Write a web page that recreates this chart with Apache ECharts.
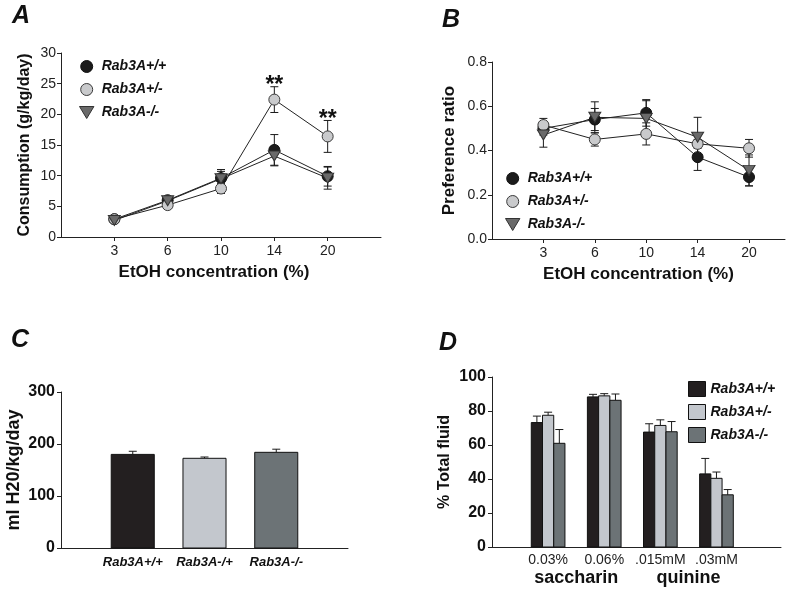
<!DOCTYPE html>
<html>
<head>
<meta charset="utf-8">
<script src="https://cdn.jsdelivr.net/npm/echarts@6/dist/echarts.min.js"></script>
<style>
html,body{margin:0;padding:0;background:#fff;}
#chart{width:800px;height:591px;}
</style>
</head>
<body>
<div id="chart"></div>
<script>
// ---------- DATA ----------
const concentrations = ['3', '6', '10', '14', '20'];
// Panel A: consumption (g/kg/day)
const consWT = [2.9, 6.0, 9.6, 14.2, 9.9];
const consWTErr = [0.2, 0.4, 1.4, 2.5, 1.6];
const consHet = [2.9, 5.2, 7.9, 22.4, 16.4];
const consHetErr = [0.2, 0.4, 0.8, 2.1, 2.6];
const consKO = [2.7, 5.9, 9.5, 13.2, 9.6];
const consKOErr = [0.2, 0.4, 1.2, 1.6, 1.8];
const sigIdx = [3, 4];
// Panel B: preference ratio
const prefWT = [0.50, 0.54, 0.57, 0.37, 0.28];
const prefWTErr = [0.03, 0.05, 0.06, 0.06, 0.04];
const prefHet = [0.515, 0.45, 0.475, 0.43, 0.41];
const prefHetErr = [0.03, 0.03, 0.05, 0.02, 0.04];
const prefKO = [0.47, 0.55, 0.545, 0.46, 0.31];
const prefKOErr = [0.055, 0.07, 0.08, 0.09, 0.07];
// Panel C: water intake
const waterGroups = ['Rab3A+/+', 'Rab3A-/+', 'Rab3A-/-'];
const waterVals = [180, 172.5, 184];
const waterErr = [6, 2.5, 6];
// Panel D: taste preference
const tasteLabels = ['0.03%', '0.06%', '.015mM', '.03mM'];
const tasteClasses = ['saccharin', 'quinine'];
const tasteWT = [73.2, 88.3, 67.6, 43.0];
const tasteWTErr = [3.8, 1.5, 4.9, 9.1];
const tasteHet = [77.5, 88.9, 71.5, 40.4];
const tasteHetErr = [1.8, 1.3, 3.3, 3.7];
const tasteKO = [61.0, 86.3, 67.8, 30.7];
const tasteKOErr = [8.1, 3.7, 6.0, 3.1];
const genotypes = ['Rab3A+/+', 'Rab3A+/-', 'Rab3A-/-'];

// ---------- STYLE ----------
const FF = 'Liberation Sans, Arial, sans-serif';
const INK = '#1a1a1a';
const TRI = 'path://M0,0 L12,0 L6,10 Z';
const markerStyles = [
  { symbol: 'circle', size: 11, color: '#1b1b1b', border: '#111' },
  { symbol: 'circle', size: 11, color: '#c9cacc', border: '#3a3a3a' },
  { symbol: TRI, size: [12, 10], color: '#6a6a6a', border: '#333' }
];
const barColors = ['#231f20', '#c3c7cd', '#6c7376'];

const chart = echarts.init(document.getElementById('chart'), null, { renderer: 'canvas' });

function pts(arr, err) { return arr.map((v, i) => [i + 1, v, err ? err[i] : 0]); }

function errRender(both, capPx, offsetFn) {
  return function (params, api) {
    const x = api.value(0), y = api.value(1), e = api.value(2);
    const dx = offsetFn ? offsetFn(api) : 0;
    const top = api.coord([x, y + e]);
    const bot = api.coord([x, both ? y - e : y]);
    const cx = top[0] + dx;
    const st = { stroke: INK, lineWidth: 1 };
    const ch = [
      { type: 'line', shape: { x1: cx, y1: top[1], x2: cx, y2: bot[1] }, style: st },
      { type: 'line', shape: { x1: cx - capPx / 2, y1: top[1], x2: cx + capPx / 2, y2: top[1] }, style: st }
    ];
    if (both) ch.push({ type: 'line', shape: { x1: cx - capPx / 2, y1: bot[1], x2: cx + capPx / 2, y2: bot[1] }, style: st });
    return { type: 'group', children: ch };
  };
}

function barRender(frac, offsetIdx, color) {
  return function (params, api) {
    const x = api.value(0), y = api.value(1);
    const w = api.size([1, 0])[0] * frac;
    const p = api.coord([x, y]);
    const p0 = api.coord([x, 0]);
    const cx = p[0] + offsetIdx * w;
    return {
      type: 'rect',
      shape: { x: cx - w / 2, y: p[1], width: w, height: p0[1] - p[1] },
      style: { fill: color, stroke: '#111', lineWidth: 1 }
    };
  };
}

function lineSeries(name, idx, data, xi) {
  const m = markerStyles[idx];
  return {
    name: name, type: 'line', xAxisIndex: xi, yAxisIndex: xi,
    data: data.map(d => [d[0], d[1]]),
    symbol: m.symbol, symbolSize: m.size, showSymbol: true,
    lineStyle: { color: '#222', width: 1 },
    itemStyle: { color: m.color, borderColor: m.border, borderWidth: 1 },
    z: 3, animation: false
  };
}
function errSeries(data, xi) {
  return {
    type: 'custom', xAxisIndex: xi, yAxisIndex: xi, data: data,
    renderItem: errRender(true, 8), z: 2, animation: false, silent: true
  };
}

const axisLineStyle = { lineStyle: { color: '#222', width: 1 } };
const tickStyle = { show: true, length: 4, lineStyle: { color: '#222' } };

function legendFor(prefix, left, top, iw, ih, gap, size, icons) {
  return {
    orient: 'vertical', left: left, top: top, itemWidth: iw, itemHeight: ih, itemGap: gap,
    selectedMode: false,
    data: genotypes.map((g, i) => ({ name: prefix + g, icon: icons[i] })),
    formatter: n => n.slice(2),
    textStyle: { fontFamily: FF, fontWeight: 'bold', fontStyle: 'italic', fontSize: size, color: '#111', lineHeight: size + 1 },
    itemStyle: { borderWidth: 1 }
  };
}

const option = {
  backgroundColor: '#fff',
  animation: false,
  textStyle: { fontFamily: FF },
  graphic: [
    { type: 'text', left: 12, top: 4, style: { text: 'A', font: 'italic bold 25px ' + FF, fill: '#111' } },
    { type: 'text', left: 442, top: 8, style: { text: 'B', font: 'italic bold 25px ' + FF, fill: '#111' } },
    { type: 'text', left: 11, top: 328, style: { text: 'C', font: 'italic bold 25px ' + FF, fill: '#111' } },
    { type: 'text', left: 439, top: 331, style: { text: 'D', font: 'italic bold 25px ' + FF, fill: '#111' } }
  ],
  legend: [
    legendFor('A ', 74, 54, 20, 12, 8, 14, ['circle', 'circle', TRI]),
    legendFor('B ', 500, 166, 20, 12, 8, 14, ['circle', 'circle', TRI]),
    legendFor('D ', 683, 376, 17, 15, 7, 14, ['rect', 'rect', 'rect'])
  ],
  grid: [
    { left: 61, top: 53, width: 320, height: 184 },
    { left: 492, top: 62, width: 293, height: 177 },
    { left: 61, top: 392, width: 287, height: 156 },
    { left: 492, top: 377, width: 289, height: 170 }
  ],
  xAxis: [
    {
      gridIndex: 0, type: 'value', min: 0, max: 6, interval: 1,
      axisLine: axisLineStyle, splitLine: { show: false },
      axisTick: Object.assign({ customValues: [1, 2, 3, 4, 5] }, tickStyle),
      axisLabel: { customValues: [1, 2, 3, 4, 5], formatter: v => concentrations[v - 1] || '', fontSize: 14, color: '#222', margin: 7 },
      name: 'EtOH concentration (%)', nameLocation: 'middle', nameGap: 27,
      nameTextStyle: { fontSize: 17, fontWeight: 'bold', color: '#111', padding: [0, 14, 0, 0] }
    },
    {
      gridIndex: 1, type: 'value', min: 0, max: 5.7, interval: 1,
      axisLine: axisLineStyle, splitLine: { show: false },
      axisTick: Object.assign({ customValues: [1, 2, 3, 4, 5] }, tickStyle),
      axisLabel: { customValues: [1, 2, 3, 4, 5], formatter: v => concentrations[v - 1] || '', fontSize: 14, color: '#222', margin: 7 },
      name: 'EtOH concentration (%)', nameLocation: 'middle', nameGap: 27,
      nameTextStyle: { fontSize: 17, fontWeight: 'bold', color: '#111' }
    },
    {
      gridIndex: 2, type: 'value', min: 0, max: 4, interval: 1,
      axisLine: axisLineStyle, splitLine: { show: false }, axisTick: { show: false },
      axisLabel: { customValues: [1, 2, 3], formatter: v => waterGroups[v - 1] || '', fontSize: 13, fontWeight: 'bold', fontStyle: 'italic', color: '#111', margin: 8 }
    },
    {
      gridIndex: 3, type: 'value', min: 0, max: 5.15, interval: 1,
      axisLine: axisLineStyle, splitLine: { show: false }, axisTick: { show: false },
      axisLabel: { customValues: [1, 2, 3, 4], formatter: v => tasteLabels[v - 1] || '', fontSize: 14, color: '#222', margin: 6 }
    },
    {
      gridIndex: 3, type: 'value', min: 0, max: 5.15, position: 'bottom', offset: 16,
      axisLine: { show: false }, splitLine: { show: false }, axisTick: { show: false },
      axisLabel: { customValues: [1.5, 3.5], formatter: v => tasteClasses[Math.round((v - 1.5) / 2)] || '', fontSize: 18, fontWeight: 'bold', color: '#111', margin: 6 }
    }
  ],
  yAxis: [
    {
      gridIndex: 0, type: 'value', min: 0, max: 30, interval: 5,
      axisLine: Object.assign({ show: true }, axisLineStyle), axisTick: tickStyle, splitLine: { show: false },
      axisLabel: { fontSize: 14, color: '#222', margin: 5 },
      name: 'Consumption (g/kg/day)', nameLocation: 'middle', nameGap: 28,
      nameTextStyle: { fontSize: 16, fontWeight: 'bold', color: '#111' }
    },
    {
      gridIndex: 1, type: 'value', min: 0, max: 0.8, interval: 0.2,
      axisLine: Object.assign({ show: true }, axisLineStyle), axisTick: tickStyle, splitLine: { show: false },
      axisLabel: { fontSize: 14, color: '#222', margin: 5, formatter: v => v.toFixed(1) },
      name: 'Preference ratio', nameLocation: 'middle', nameGap: 34,
      nameTextStyle: { fontSize: 17, fontWeight: 'bold', color: '#111' }
    },
    {
      gridIndex: 2, type: 'value', min: 0, max: 300, interval: 100,
      axisLine: Object.assign({ show: true }, axisLineStyle), axisTick: tickStyle, splitLine: { show: false },
      axisLabel: { fontSize: 16, fontWeight: 'bold', color: '#111', margin: 6 },
      name: 'ml H20/kg/day', nameLocation: 'middle', nameGap: 38,
      nameTextStyle: { fontSize: 18, fontWeight: 'bold', color: '#111' }
    },
    {
      gridIndex: 3, type: 'value', min: 0, max: 100, interval: 20,
      axisLine: Object.assign({ show: true }, axisLineStyle), axisTick: tickStyle, splitLine: { show: false },
      axisLabel: { fontSize: 16, fontWeight: 'bold', color: '#111', margin: 6 },
      name: '% Total fluid', nameLocation: 'middle', nameGap: 39,
      nameTextStyle: { fontSize: 16, fontWeight: 'bold', color: '#111' }
    }
  ],
  series: []
};

// Panel A
const aSets = [[consWT, consWTErr], [consHet, consHetErr], [consKO, consKOErr]];
aSets.forEach((s, i) => option.series.push(errSeries(pts(s[0], s[1]), 0)));
aSets.forEach((s, i) => option.series.push(lineSeries('A ' + genotypes[i], i, pts(s[0]), 0)));
option.series.push({
  type: 'custom', xAxisIndex: 0, yAxisIndex: 0, z: 4, silent: true,
  data: sigIdx.map(i => [i + 1, consHet[i] + consHetErr[i]]),
  renderItem: function (params, api) {
    const p = api.coord([api.value(0), api.value(1)]);
    return { type: 'text', x: p[0], y: p[1] - 1, style: { text: '**', font: 'bold 23px ' + FF, fill: '#111', textAlign: 'center', textVerticalAlign: 'middle' } };
  }
});
// Panel B
const bSets = [[prefWT, prefWTErr], [prefHet, prefHetErr], [prefKO, prefKOErr]];
bSets.forEach((s, i) => option.series.push(errSeries(pts(s[0], s[1]), 1)));
bSets.forEach((s, i) => option.series.push(lineSeries('B ' + genotypes[i], i, pts(s[0]), 1)));
// Panel C
option.series.push({
  type: 'custom', xAxisIndex: 2, yAxisIndex: 2, z: 2,
  data: waterVals.map((v, i) => [i + 1, v, waterErr[i]]),
  renderItem: function (params, api) {
    return barRender(0.6, 0, barColors[params.dataIndex])(params, api);
  }
});
option.series.push({
  type: 'custom', xAxisIndex: 2, yAxisIndex: 2, z: 1, silent: true,
  data: waterVals.map((v, i) => [i + 1, v, waterErr[i]]),
  renderItem: errRender(false, 8)
});
// Panel D
const dSets = [[tasteWT, tasteWTErr], [tasteHet, tasteHetErr], [tasteKO, tasteKOErr]];
dSets.forEach((s, i) => {
  const off = i - 1;
  option.series.push({
    name: 'D ' + genotypes[i], type: 'custom', xAxisIndex: 3, yAxisIndex: 3, z: 2,
    itemStyle: { color: barColors[i], borderColor: '#111', borderWidth: 1 },
    data: pts(s[0], s[1]),
    renderItem: barRender(0.2, off, barColors[i])
  });
  option.series.push({
    type: 'custom', xAxisIndex: 3, yAxisIndex: 3, z: 1, silent: true,
    data: pts(s[0], s[1]),
    renderItem: errRender(false, 8, api => off * api.size([1, 0])[0] * 0.2)
  });
});

chart.setOption(option);
</script>
</body>
</html>
